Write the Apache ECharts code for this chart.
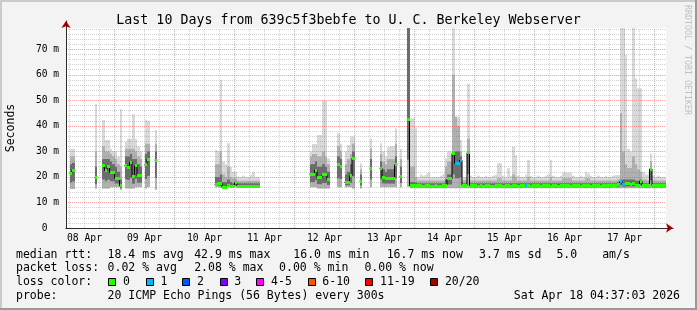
<!DOCTYPE html>
<html><head><meta charset="utf-8">
<script src="https://cdn.jsdelivr.net/npm/echarts@6/dist/echarts.min.js"></script>
<style>html,body{margin:0;padding:0;background:#f3f3f3;}#c{width:697px;height:310px;}</style>
</head><body><div id="c"></div>
<script>
const _ = null;
// ---- tick labels ----
const dayLabels = ['08 Apr','09 Apr','10 Apr','11 Apr','12 Apr','13 Apr','14 Apr','15 Apr','16 Apr','17 Apr'];
const dayLabelHours = [12,36,60,84,108,132,156,180,204,228];   // hours since 08 Apr 00:00
const yTickValues = [0,10,20,30,40,50,60,70];
const yTickLabels = ['0  ','10 m','20 m','30 m','40 m','50 m','60 m','70 m'];

// ---- hourly data, index = hours since 08 Apr 00:00 (ms) ----
const medRtt = [
 _,_,_,_,_,_,21.5,22.7,_,_,_,_,_,_,_,_,19.7,_,_,24.3,22.5,24.0,21.7,21.7,
 19.5,19.5,16.5,_,24.5,23.8,25.8,20.1,24.3,20.4,20.4,_,24.8,27.0,_,_,26.6,_,_,_,_,_,_,_,
 _,_,_,_,_,_,_,_,_,_,_,_,_,_,_,_,17.1,17.5,17.5,15.9,15.9,16.8,16.4,16.4,
 17.7,16.4,16.4,16.4,16.4,16.4,16.4,16.4,16.4,16.4,_,_,_,_,_,_,_,_,_,_,_,_,_,_,
 _,_,_,_,_,_,21.1,21.1,22.7,19.7,19.7,20.8,20.8,18.8,_,_,_,24.7,24.0,_,17.9,17.9,20.4,27.3,
 _,_,18.4,_,_,_,23.4,_,_,_,23.4,19.7,19.5,19.5,19.5,19.5,24.7,_,20.1,_,_,42.6,16.5,16.8,
 16.8,16.6,16.8,16.4,16.5,16.6,16.3,16.2,16.5,16.4,16.2,16.5,16.8,19.2,19.2,29.0,25.3,25.3,26.6,16.8,16.8,29.5,16.6,16.6,
 16.5,16.4,16.6,16.3,16.5,16.6,16.4,16.3,16.5,16.7,16.5,16.4,16.6,16.5,16.3,16.5,16.6,16.4,16.5,16.6,16.8,16.5,16.4,16.6,
 16.5,16.6,16.4,16.5,16.7,16.5,16.4,16.6,16.5,16.3,16.5,16.6,16.8,16.5,16.4,16.6,16.5,16.7,16.4,16.5,16.6,16.5,16.4,16.5,
 16.5,16.6,16.4,16.5,16.6,16.5,16.6,16.7,16.8,17.0,18.1,17.1,17.3,17.4,17.2,17.3,16.8,16.8,18.4,16.6,16.6,16.5,23.1,16.5,
 16.5,16.6,16.5,16.6,16.7
];
const smokeLo = [
 _,_,_,_,_,_,15.3,15.3,_,_,_,_,_,_,_,_,15.5,_,_,15.5,15.5,15.5,16,16,
 16,16,15,_,15.5,15.5,15.5,15.5,16,16,16,_,15.5,16,_,_,15,_,_,_,_,_,_,_,
 _,_,_,_,_,_,_,_,_,_,_,_,_,_,_,_,16,16,15.8,15.8,15.8,16,16,16,
 16,16,16,16,16,16,16,16,16,16,_,_,_,_,_,_,_,_,_,_,_,_,_,_,
 _,_,_,_,_,_,16,16,16,15.5,15.5,15.5,15.5,15.5,_,_,_,16,16,_,16,16,16,15.5,
 _,_,15.5,_,_,_,16,_,_,_,16,16,16,16,16,16,16,_,16,_,_,16.2,15.6,15.6,
 15.6,15.6,15.6,15.6,15.6,15.6,15.6,15.6,15.6,15.6,15.6,15.6,15.6,15.6,15.6,15.6,15.6,15.6,15.6,15.6,15.6,15.6,15.6,15.6,
 15.6,15.6,15.6,15.6,15.6,15.6,15.6,15.6,15.6,15.6,15.6,15.6,15.6,15.6,15.6,15.6,15.6,15.6,15.6,15.6,15.6,15.6,15.6,15.6,
 15.6,15.6,15.6,15.6,15.6,15.6,15.6,15.6,15.6,15.6,15.6,15.6,15.6,15.6,15.6,15.6,15.6,15.6,15.6,15.6,15.6,15.6,15.6,15.6,
 15.6,15.6,15.6,15.6,15.6,15.6,15.6,15.6,15.6,15.6,15.6,15.6,15.6,15.6,15.6,15.6,15.6,15.6,15.6,15.6,15.6,15.6,15.6,15.6,
 15.6,15.6,15.6,15.6,15.6
];
const smokeDark = [
 _,_,_,_,_,_,25,25.5,_,_,_,_,_,_,_,_,24,_,_,27,27,27,26,25,
 24,22,19,_,28,28,29,27,27,25,24,_,29,30,_,_,30,_,_,_,_,_,_,_,
 _,_,_,_,_,_,_,_,_,_,_,_,_,_,_,_,20,20,21,18,18,19,18,17.5,
 18.5,17.5,17.5,17.5,17.5,17.5,17.5,17.5,17.5,17.5,_,_,_,_,_,_,_,_,_,_,_,_,_,_,
 _,_,_,_,_,_,25,25,26,24,24,25,24,22,_,_,_,28,27,_,21,22,25,30,
 _,_,21,_,_,_,27,_,_,_,26,23,22,23,23,23,28,_,24,_,_,78.3,18,18,
 17.8,17.5,17.5,17.5,17.5,17.5,17.5,17.5,17.5,17.5,17.5,17.5,19,21,21,29,30,30,28,17.5,17.5,29.5,17.5,17.5,
 17.5,17.5,17.5,17.5,17.5,17.5,17.5,17.5,17.5,17.5,17.5,17.5,17.5,17.5,17.5,17.5,17.5,17.5,17.5,17.5,17.5,17.5,17.5,17.5,
 17.5,17.5,17.5,17.5,17.5,17.5,17.5,17.5,17.5,17.5,17.5,17.5,17.5,17.5,17.5,17.5,17.5,17.5,17.5,17.5,17.5,17.5,17.5,17.5,
 17.5,17.5,17.5,17.5,17.5,17.5,17.5,17.5,17.5,18,19,19,19,19,19,19,18.5,18.5,19,17.5,17.5,17.5,23.1,17.5,
 17.5,17.5,17.5,17.5,17.5
];
const smokeMid = [
 _,_,_,_,_,_,28,28,_,_,_,_,_,_,_,_,30,_,_,32,30,30,29,28,
 27,25,24,_,31,31,31,31,30,28,27,_,33,33,_,_,33,_,_,_,_,_,_,_,
 _,_,_,_,_,_,_,_,_,_,_,_,_,_,_,_,25,25,30,21,20,24,20,19.5,
 19.5,18.5,18.5,18.5,18.5,18.5,18.5,18.5,18.5,18.5,_,_,_,_,_,_,_,_,_,_,_,_,_,_,
 _,_,_,_,_,_,28,29,29,28,28,30,28,25,_,_,_,32,30,_,25,27,29,33,
 _,_,23,_,_,_,31,_,_,_,29,26,25,27,27,27,33,_,27,_,_,78.3,24,24,
 20,18.6,18.6,18.6,18.6,18.6,18.6,18.6,18.6,18.6,18.6,18.6,24,26,26,60,43.6,40,30,18.6,19,35,18.6,18.6,
 18.6,18.6,18.6,18.6,18.6,18.6,18.6,18.6,18.6,19.5,19.5,18.6,18.6,18.6,18.6,21,20,18.6,18.6,18.6,18.6,20,18.6,18.6,
 18.6,18.6,18.6,18.6,18.6,18.6,20,18.6,18.6,18.6,18.6,19.5,19.5,19.5,19.5,18.6,18.6,18.6,18.6,18.6,19.5,19.5,18.6,18.6,
 18.6,18.6,18.6,18.6,18.6,18.6,18.6,18.6,18.6,19,45,30,25,23.5,23.5,28,25,23,22,19,19,18.6,26,18.6,
 18.6,18.6,18.6,18.6,18.6
];
const smokeHi = [
 _,_,_,_,_,_,31,31,_,_,_,_,_,_,_,_,48.5,_,_,42.3,34.5,34.5,31,30,
 30,28,46.5,_,33.8,35,35,44.5,35,32,30,_,42.3,42,_,_,38.4,_,_,_,_,_,_,_,
 _,_,_,_,_,_,_,_,_,_,_,_,_,_,_,_,30.5,30,58,26,25,33.2,24,22,
 22,20,20,20.5,20,20,21,22,20,20,_,_,_,_,_,_,_,_,_,_,_,_,_,_,
 _,_,_,_,_,_,30,32.9,32.9,36.4,36.4,49.9,49.9,27.3,_,_,_,37.1,33,_,30,32.5,35.8,35.8,
 _,_,25.3,_,_,_,35.1,_,_,_,33.2,30,27.9,31.8,32.1,32,39,_,31,_,_,78.3,43,43,
 39.3,20,21,20.5,21,21.7,20,20,20,20,20.5,21,27.3,30,30,78.3,43.6,43.6,34.5,20,20,56.5,20.5,20,
 20,20.5,20,20,20.5,20,20,20.5,21,25.4,25.4,20.5,20,23.4,20.5,31.8,28.6,20.5,20,20,21,26.6,20.5,20,
 20,20.5,20,20,20.5,21,26.6,20.5,20,20,20.5,21.7,21.7,21.7,21.7,20.5,20,20,20.5,20,22,21.4,20.5,20,
 20,20.5,20,20,20.5,20,20,20.5,20.8,20.8,78.3,78.3,67.8,31,30,78.3,58.6,54.7,54.7,22,21,21,29.2,20.5,
 20,20.5,20,20,20
];
const lossOneSlots = [160,161,162,188,226,227];   // hours with 1 of 20 pings lost

// ---- legend texts ----
const lossLegend = ['0','1','2','3','4-5','6-10','11-19','20/20'];
const lossColors = ['#26ff00','#00b8ff','#0059ff','#7e00ff','#ff00ff','#ff5500','#ff0000','#a10000'];
const rttStats = ['median rtt:','18.4 ms avg','42.9 ms max','16.0 ms min','16.7 ms now','3.7 ms sd','5.0','am/s'];
const lossStats = ['packet loss:','0.02 % avg','2.08 % max','0.00 % min','0.00 % now'];
const probeText = ['probe:','20 ICMP Echo Pings (56 Bytes) every 300s','Sat Apr 18 04:37:03 2026'];
const titleText = 'Last 10 Days from 639c5f3bebfe to U. C. Berkeley Webserver';

// ---- layout / style ----
const X_MIN = 4.6, X_MAX = 244.6, Y_MAX = 78.33;
const MONO = '"DejaVu Sans Mono", monospace';
const C_LIGHT = '#d9d9d9', C_MID = '#b0b0b0', C_DARK = '#6c6c6c';

const smokeData = [], medMarks = [], medLine = [];
for (let k = 0; k < medRtt.length; k++) {
  medLine.push([k + 0.5, medRtt[k]]);
  if (smokeLo[k] != null) smokeData.push([k, smokeLo[k], medRtt[k], smokeDark[k], smokeMid[k], smokeHi[k]]);
  if (medRtt[k] != null) medMarks.push([k, medRtt[k], lossOneSlots.indexOf(k) >= 0 ? 1 : 0]);
}

function slotEdges(api, cs, k) {
  let x0 = Math.round(api.coord([k, 0])[0]);
  let x1 = Math.round(api.coord([k + 1, 0])[0]);
  return [Math.max(x0, cs.x), Math.min(x1, Math.round(cs.x + cs.width))];
}
function renderSmoke(params, api) {
  const cs = params.coordSys, k = api.value(0);
  const [x0, x1] = slotEdges(api, cs, k);
  if (x1 <= x0) return {type: 'group', children: []};
  const yv = v => api.coord([k, Math.min(v, Y_MAX)])[1];
  const band = (a, b, fill) => {
    const ya = yv(a), yb = yv(b);
    return {type: 'rect', shape: {x: x0, y: yb, width: x1 - x0, height: ya - yb}, style: {fill}};
  };
  const lo = api.value(1), med = api.value(2), dk = api.value(3), md = api.value(4), hi = api.value(5);
  return {type: 'group', children: [
    band(lo, hi, C_LIGHT), band(lo, md, C_MID), band(lo + (med - lo) * 0.4, dk, C_DARK)
  ]};
}
function renderMedian(params, api) {
  const cs = params.coordSys, k = api.value(0);
  const [x0, x1] = slotEdges(api, cs, k);
  if (x1 <= x0) return {type: 'group', children: []};
  const y = api.coord([k, api.value(1)])[1];
  return {type: 'rect', shape: {x: x0, y: Math.round(y - 1.5), width: x1 - x0, height: 3},
          style: {fill: lossColors[api.value(2)]}};
}

const vLines = [];
for (let h = 6; h <= 240; h += 6) {
  vLines.push({xAxis: h, lineStyle: {color: h % 24 === 0 ? 'rgba(255,60,60,0.45)' : 'rgba(120,120,120,0.35)', type: [1, 1], width: 1}});
}

// legend graphics
const g = [];
g.push({type: 'rect', shape: {x: 0, y: 0, width: 697, height: 2}, style: {fill: '#cbcbcb'}, z: 100});
g.push({type: 'rect', shape: {x: 0, y: 0, width: 2, height: 310}, style: {fill: '#cbcbcb'}, z: 100});
g.push({type: 'rect', shape: {x: 0, y: 308, width: 697, height: 2}, style: {fill: '#999999'}, z: 100});
g.push({type: 'rect', shape: {x: 695, y: 0, width: 2, height: 310}, style: {fill: '#999999'}, z: 100});
const txt = (s, x, y, align) => ({type: 'text', x: x, y: y, style: {text: s, x: 0, y: 0, align: align || 'left', verticalAlign: 'middle', font: '11.5px ' + MONO, fill: '#000'}});
const rttX = [16, 107.6, 194.2, 293.3, 386.7, 479.1, 556.4, 602.2];
rttStats.forEach((s, i) => g.push(txt(s, rttX[i], 254.7)));
const lossX = [16, 107.6, 194.2, 279.1, 364.4];
lossStats.forEach((s, i) => g.push(txt(s, lossX[i], 268.3)));
g.push(txt('loss color:', 16, 282.3));
const boxX = [108.4, 145.8, 182.2, 219.6, 256.4, 307.6, 365.3, 430.2];
lossLegend.forEach((s, i) => {
  g.push({type: 'rect', shape: {x: Math.round(boxX[i]) + 0.5, y: 278.5, width: 7, height: 7}, style: {fill: lossColors[i], stroke: '#000', lineWidth: 1}});
  g.push(txt(s, boxX[i] + 14.7, 282.3));
});
g.push(txt(probeText[0], 16, 296));
g.push(txt(probeText[1], 107.6, 296));
g.push(txt(probeText[2], 680, 296, 'right'));
g.push({type: 'text', x: 687, y: 5, rotation: -Math.PI / 2,
  style: {text: 'RRDTOOL / TOBI OETIKER', x: 0, y: 0, align: 'left', verticalAlign: 'middle', font: '8.3px ' + MONO, fill: '#c0c0c0'}});

const chart = echarts.init(document.getElementById('c'), null, {renderer: 'canvas'});
chart.setOption({
  animation: false,
  backgroundColor: '#f3f3f3',
  title: {text: titleText, left: 'center', top: 9,
    textStyle: {fontFamily: MONO, fontSize: 13.3, fontWeight: 'normal', color: '#000', lineHeight: 14}},
  grid: [
    {left: 66, top: 28, width: 600, height: 200, show: true, backgroundColor: '#ffffff', borderWidth: 0,
     containLabel: false, outerBoundsMode: 'none'},
    {left: 66, top: 21, width: 607, height: 207, show: false, containLabel: false, outerBoundsMode: 'none'}
  ],
  xAxis: [
    {type: 'value', gridIndex: 0, min: X_MIN, max: X_MAX, z: 4,
     axisLine: {show: true, onZero: false, lineStyle: {color: '#2c2c2c', width: 1}},
     axisTick: {show: false}, splitLine: {show: false},
     axisLabel: {customValues: dayLabelHours, margin: 5.5, fontFamily: MONO, fontSize: 9.7, color: '#000',
       formatter: v => { const i = dayLabelHours.indexOf(v); return i >= 0 ? dayLabels[i] : ''; }}},
    {type: 'value', gridIndex: 1, min: 0, max: 1,
     axisLine: {show: true, onZero: false, symbol: ['none', 'arrow'], symbolSize: [7, 7], lineStyle: {color: '#990000', width: 1}},
     axisTick: {show: false}, axisLabel: {show: false}, splitLine: {show: false}}
  ],
  yAxis: [
    {type: 'value', gridIndex: 0, min: 0, max: Y_MAX, interval: 2, z: 4,
     name: 'Seconds', nameLocation: 'middle', nameGap: 49, nameRotate: 90,
     nameTextStyle: {fontFamily: MONO, fontSize: 11.5, color: '#000'},
     axisLine: {show: true, onZero: false, lineStyle: {color: '#2c2c2c', width: 1}},
     axisTick: {show: false},
     splitLine: {show: true, showMaxLine: false, lineStyle: {type: [1, 1], width: 1,
       color: ['rgba(255,60,60,0.45)', 'rgba(120,120,120,0.35)', 'rgba(120,120,120,0.35)', 'rgba(120,120,120,0.35)', 'rgba(120,120,120,0.35)']}},
     axisLabel: {margin: 7, fontFamily: MONO, fontSize: 9.6, color: '#000', showMaxLabel: false,
       formatter: v => { const i = yTickValues.findIndex(t => Math.abs(t - v) < 1e-6); return i >= 0 ? yTickLabels[i] : ''; }}},
    {type: 'value', gridIndex: 1, min: 0, max: 1,
     axisLine: {show: true, onZero: false, symbol: ['none', 'arrow'], symbolSize: [7, 7], lineStyle: {color: '#990000', width: 1}},
     axisTick: {show: false}, axisLabel: {show: false}, splitLine: {show: false}}
  ],
  series: [
    {type: 'custom', name: 'smoke', xAxisIndex: 0, yAxisIndex: 0, z: 2, silent: true,
     renderItem: renderSmoke, data: smokeData, encode: {x: 0, y: [1, 5]}},
    {type: 'line', name: 'grid', xAxisIndex: 0, yAxisIndex: 0, z: 3, data: [], silent: true,
     markLine: {silent: true, symbol: ['none', 'none'], label: {show: false}, animation: false, data: vLines}},
    {type: 'line', name: 'median', xAxisIndex: 0, yAxisIndex: 0, z: 5, step: 'middle', symbol: 'none',
     connectNulls: false, silent: true, lineStyle: {color: '#000', width: 1}, data: medLine},
    {type: 'custom', name: 'loss', xAxisIndex: 0, yAxisIndex: 0, z: 6, silent: true,
     renderItem: renderMedian, data: medMarks, encode: {x: 0, y: 1}}
  ],
  graphic: g
});
</script></body></html>
